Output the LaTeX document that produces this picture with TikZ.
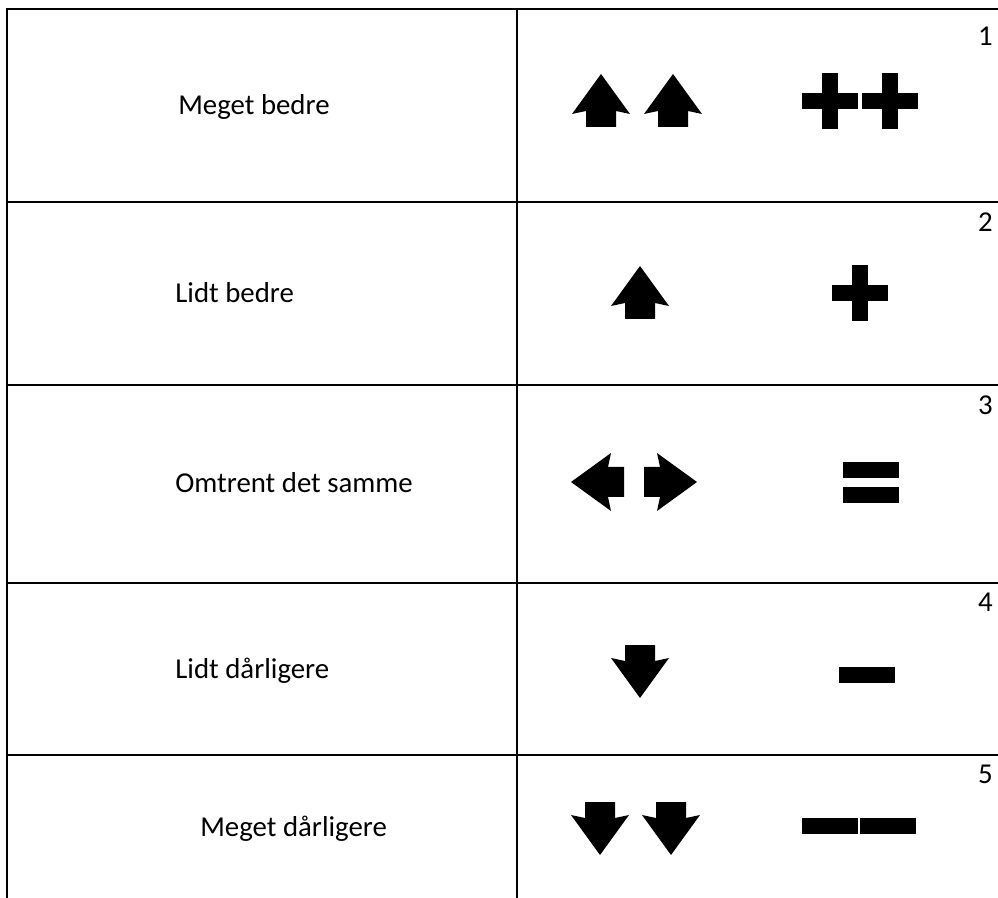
\documentclass[tikz,border=0pt]{standalone}
\usepackage{fontspec}
\setmainfont{Carlito}
\usetikzlibrary{positioning}
\tikzset{row label/.style={anchor=base west,inner sep=0pt,font=\fontsize{16.4}{20}\selectfont},
            row num/.style={anchor=north east,inner sep=0pt,font=\fontsize{16.4}{20}\selectfont},
            grid line/.style={line width=1.1pt},
            up arrow/.pic={\fill (0,-27) -- (29,13) -- (15,10) -- (15,26) -- (-15,26) -- (-15,10) -- (-29,13) -- cycle;},
            plus sign/.pic={\fill (-8,-28) rectangle (8,28); \fill (-28,-8) rectangle (28,8);},
            bar sign/.pic={\fill (-28,-8) rectangle (28,8);},
            }

\begin{document}
\begin{tikzpicture}[x=0.02cm,y=-0.02cm]
    \useasboundingbox (0,0) rectangle (998,898);

    % table
    \draw[grid line] (7,898) -- (7,9) -- (998,9);
    \draw[grid line] (517,9) -- (517,898);
    \draw[grid line] (7,202) -- (998,202);
    \draw[grid line] (7,385) -- (998,385);
    \draw[grid line] (7,583) -- (998,583);
    \draw[grid line] (7,755) -- (998,755);

    % labels
    \node[row label] (t1) at (178,115) {Meget bedre};
    \node[row label] (t2) at (175,303) {Lidt bedre};
    \node[row label] (t3) at (175,493) {Omtrent det samme};
    \node[row label] (t4) at (175,678) {Lidt dårligere};
    \node[row label] (t5) at (200,836) {Meget dårligere};

    % numbers
    \node[row num] (n1) at (993,27) {1};
    \node[row num] (n2) at (993,212) {2};
    \node[row num] (n3) at (993,395) {3};
    \node[row num] (n4) at (993,593) {4};
    \node[row num] (n5) at (993,765) {5};

    % symbols
    \pic at (601,101) {up arrow};
    \pic at (673,101) {up arrow};
    \pic at (830,101) {plus sign};
    \pic at (890,101) {plus sign};

    \pic at (640,293) {up arrow};
    \pic at (860,293) {plus sign};

    \pic[rotate=90] at (598,482) {up arrow};
    \pic[rotate=-90] at (670,482) {up arrow};
    \pic at (871,470) {bar sign};
    \pic at (871,495) {bar sign};

    \pic[rotate=180] at (640,671) {up arrow};
    \pic at (867,675) {bar sign};

    \pic[rotate=180] at (600,828) {up arrow};
    \pic[rotate=180] at (671,828) {up arrow};
    \pic at (830,826) {bar sign};
    \pic at (888,826) {bar sign};
\end{tikzpicture}
\end{document}
